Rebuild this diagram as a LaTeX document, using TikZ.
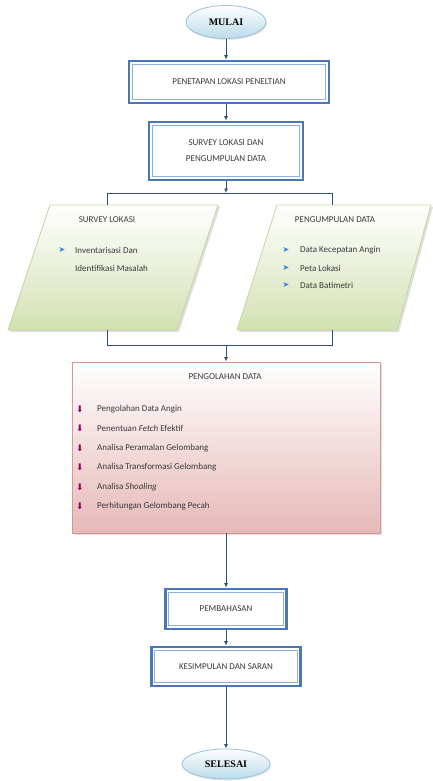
\documentclass[tikz,border=0pt]{standalone}
\usepackage{fontspec}
\setmainfont{Carlito}
\newfontfamily\termfont{Liberation Serif}
\newfontfamily\symfont{DejaVu Sans}
\usetikzlibrary{positioning,arrows.meta,shapes.geometric,shadows,calc}
\definecolor{boxblue}{HTML}{4A78B5}
\definecolor{innerblue}{HTML}{8EB0DA}
\definecolor{lineblue}{HTML}{2F4F7A}
\definecolor{termline}{HTML}{9DBFD8}
\definecolor{termfill}{HTML}{B9DBEA}
\definecolor{paraline}{HTML}{C3D69B}
\definecolor{parafill}{HTML}{D3E1B2}
\definecolor{procline}{HTML}{D99694}
\definecolor{procfill}{HTML}{E6B9B8}
\definecolor{txt}{HTML}{3A3A3A}
\definecolor{chev}{HTML}{2E86D6}

\begin{document}
\begin{tikzpicture}[x=1pt, y=-1pt,
  font=\fontsize{9}{10}\selectfont, text=txt,
  term/.style={ellipse, draw=termline, line width=0.8pt, top color=white, bottom color=termfill,
    font=\termfont\bfseries\fontsize{10}{12}\selectfont, text=black, inner sep=0pt,
    drop shadow={shadow xshift=1pt, shadow yshift=-1.5pt, opacity=0.2}},
  stepbox/.style={draw=boxblue, line width=2.6pt, fill=white, align=center, inner sep=0pt,
    path picture={\draw[innerblue, line width=0.9pt]
      ($(path picture bounding box.north west)+(3.2pt,-3.2pt)$) rectangle
      ($(path picture bounding box.south east)+(-3.2pt,3.2pt)$);}},
  para/.style={draw=paraline, line width=0.8pt, top color=white, bottom color=parafill,
    drop shadow={shadow xshift=2pt, shadow yshift=-2pt, opacity=0.25}},
  proc/.style={rectangle, draw=procline, line width=0.8pt, top color=white, bottom color=procfill,
    inner sep=0pt, drop shadow={shadow xshift=2pt, shadow yshift=-2pt, opacity=0.25}},
  item/.style={anchor=west, inner sep=0pt},
  chevbul/.style={inner sep=0pt, text=chev, font=\symfont\fontsize{8}{8}\selectfont},
  downbul/.style={inner sep=0pt, font=\symfont\fontsize{9}{9}\selectfont},
  line/.style={draw=lineblue, line width=0.9pt},
  flow/.style={line, -{Latex[length=4.5pt, width=4pt]}}]
\useasboundingbox (0,0) rectangle (432,781);

% main column
\node[term, minimum width=80pt, minimum height=33pt] (mulai) at (226,22) {MULAI};
\node[stepbox, minimum width=200pt, minimum height=42pt] (tetap) at (229,82) {PENETAPAN LOKASI PENELTIAN};
\node[stepbox, minimum width=154pt, minimum height=58pt] (survey) at (226,151)
  {SURVEY LOKASI DAN\\[6pt]PENGUMPULAN DATA};

% two branches
\path[para] (50,205) -- (218,205) -- (177,330) -- (8,330) -- cycle;
\path[para] (277,205) -- (431,205) -- (397,330) -- (237,330) -- cycle;
\coordinate (split) at (226,193);
\coordinate (lt) at (107,193);
\coordinate (rt) at (332,193);
\coordinate (ltop) at (107,205);
\coordinate (rtop) at (332,205);
\coordinate (join) at (226,345);
\coordinate (lb) at (107,345);
\coordinate (rb) at (332,345);
\coordinate (lbot) at (107,330);
\coordinate (rbot) at (332,330);

\node (lokasititle) at (107,220) {SURVEY LOKASI};
\node[chevbul] (lc1) at (62,250) {➤};
\node[item] (li1) at (75,250) {Inventarisasi Dan};
\node[item] (li2) at (75,268) {Identifikasi Masalah};

\node (kumpultitle) at (335,220) {PENGUMPULAN DATA};
\node[chevbul] (kc1) at (286,250) {➤};
\node[chevbul] (kc2) at (286,268) {➤};
\node[chevbul] (kc3) at (286,285) {➤};
\node[item] (ki1) at (300,250) {Data Kecepatan Angin};
\node[item] (ki2) at (300,268) {Peta Lokasi};
\node[item] (ki3) at (300,285) {Data Batimetri};

% processing
\node[proc, minimum width=308pt, minimum height=171pt] (olah) at (226,447.5) {};
\node (olahtitle) at (225,377) {PENGOLAHAN DATA};
\foreach \t [count=\i] in {Pengolahan Data Angin, Penentuan \textit{Fetch} Efektif,
    Analisa Peramalan Gelombang, Analisa Transformasi Gelombang,
    Analisa \textit{Shoaling}, Perhitungan Gelombang Pecah} {
  \node[downbul] (ob\i) at (80,389.5+19.5*\i) {\textcolor{red!60!blue}{⬇}};
  \node[item] (oi\i) at (97,389.5+19.5*\i) {\t};
}

\node[stepbox, minimum width=121pt, minimum height=40pt] (bahas) at (226,609) {PEMBAHASAN};
\node[stepbox, minimum width=149pt, minimum height=39pt] (simpul) at (226,666.5) {KESIMPULAN DAN SARAN};
\node[term, minimum width=88pt, minimum height=30pt] (selesai) at (226,764) {SELESAI};

% connectors
\draw[flow] (mulai) -- (mulai |- tetap.north);
\draw[flow] (tetap.south -| survey) -- (survey);
\draw[flow] (survey) -- (split);
\draw[line] (ltop) -- (lt) -- (rt) -- (rtop);
\draw[line] (lbot) -- (lb) -- (rb) -- (rbot);
\draw[flow] (join) -- (olah);
\draw[flow] (olah) -- (bahas);
\draw[flow] (bahas) -- (simpul);
\draw[flow] (simpul) -- (selesai);
\end{tikzpicture}
\end{document}
